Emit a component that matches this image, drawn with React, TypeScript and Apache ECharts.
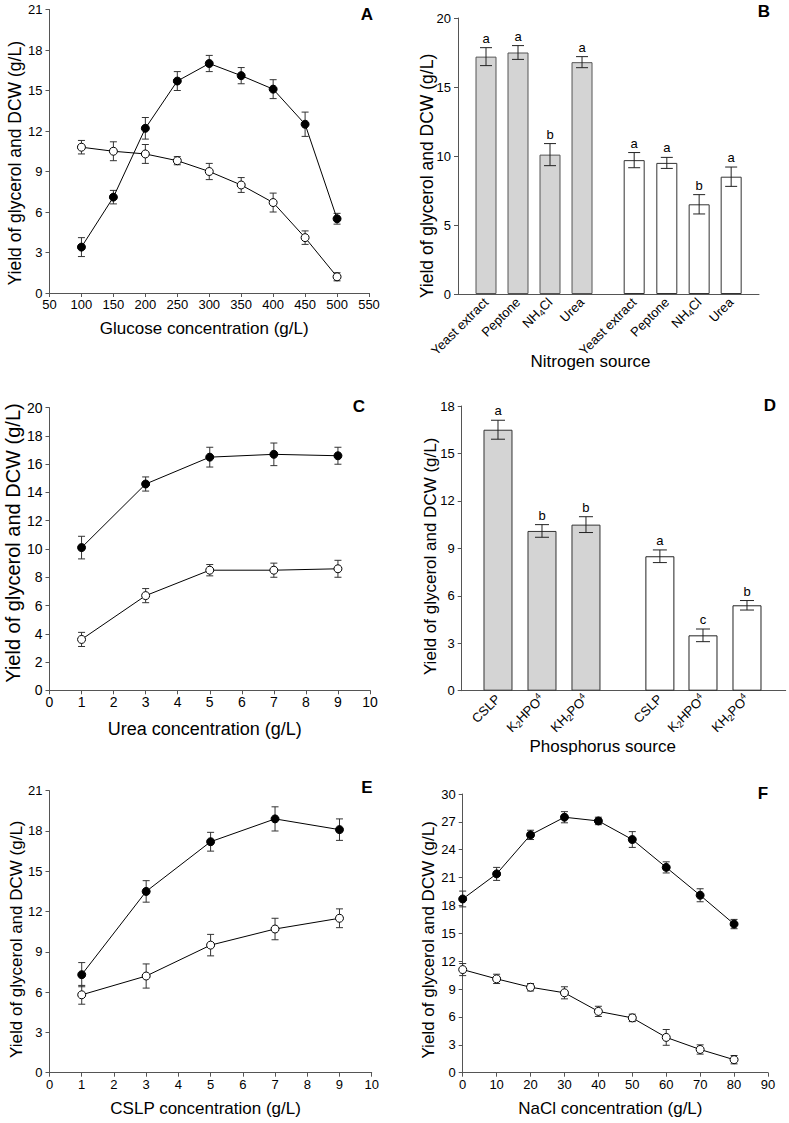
import React, { useEffect, useRef } from "react";
import * as echarts from "echarts";

const FONT = "'Liberation Sans', Arial, Helvetica, sans-serif";

// ---------- Panel A: glucose ----------
const glucoseX = [100, 150, 200, 250, 300, 350, 400, 450, 500];
const glycerolA = [3.4, 7.1, 12.2, 15.7, 17.0, 16.1, 15.1, 12.5, 5.5];
const glycerolAErr = [0.7, 0.5, 0.8, 0.7, 0.6, 0.6, 0.7, 0.9, 0.4];
const dcwA = [10.8, 10.5, 10.3, 9.8, 9.0, 8.0, 6.7, 4.1, 1.2];
const dcwAErr = [0.5, 0.7, 0.7, 0.3, 0.6, 0.55, 0.7, 0.5, 0.3];

// ---------- Panel B: nitrogen source ----------
const nitrogenLabels = ["Yeast extract", "Peptone", "NH{sub|4}Cl", "Urea"];
const nitrogenSlotsGlycerol = [1, 2, 3, 4];
const nitrogenSlotsDcw = [5.63, 6.65, 7.66, 8.66];
const glycerolB = [17.2, 17.5, 10.1, 16.8];
const glycerolBErr = [0.65, 0.5, 0.8, 0.4];
const glycerolBLetters = ["a", "a", "b", "a"];
const dcwB = [9.7, 9.5, 6.5, 8.5];
const dcwBErr = [0.55, 0.4, 0.7, 0.7];
const dcwBLetters = ["a", "a", "b", "a"];

// ---------- Panel C: urea ----------
const ureaX = [1, 3, 5, 7, 9];
const glycerolC = [10.1, 14.6, 16.5, 16.7, 16.6];
const glycerolCErr = [0.8, 0.5, 0.7, 0.8, 0.6];
const dcwC = [3.6, 6.7, 8.5, 8.5, 8.6];
const dcwCErr = [0.5, 0.5, 0.4, 0.5, 0.6];

// ---------- Panel D: phosphorus source ----------
const phosLabels = ["CSLP", "K{sub|2}HPO{sup|4}", "KH{sub|2}PO{sup|4}"];
const phosSlotsGlycerol = [1, 2, 3];
const phosSlotsDcw = [4.68, 5.66, 6.66];
const glycerolD = [16.5, 10.1, 10.5];
const glycerolDErr = [0.6, 0.4, 0.5];
const glycerolDLetters = ["a", "b", "b"];
const dcwD = [8.5, 3.5, 5.4];
const dcwDErr = [0.4, 0.4, 0.3];
const dcwDLetters = ["a", "c", "b"];

// ---------- Panel E: CSLP ----------
const cslpX = [1, 3, 5, 7, 9];
const glycerolE = [7.3, 13.5, 17.2, 18.9, 18.1];
const glycerolEErr = [0.9, 0.8, 0.7, 0.9, 0.8];
const dcwE = [5.8, 7.2, 9.5, 10.7, 11.5];
const dcwEErr = [0.7, 0.9, 0.8, 0.8, 0.7];

// ---------- Panel F: NaCl ----------
const naclX = [0, 10, 20, 30, 40, 50, 60, 70, 80];
const glycerolF = [18.7, 21.4, 25.6, 27.5, 27.1, 25.1, 22.1, 19.1, 16.0];
const glycerolFErr = [0.85, 0.7, 0.5, 0.6, 0.4, 0.85, 0.6, 0.7, 0.5];
const dcwF = [11.1, 10.1, 9.2, 8.6, 6.6, 5.9, 3.8, 2.5, 1.4];
const dcwFErr = [0.65, 0.5, 0.4, 0.65, 0.55, 0.4, 0.85, 0.5, 0.45];

const yTitle = "Yield of glycerol and DCW (g/L)";

const pts = (x: number[], y: number[]) => x.map((v, i) => [v, y[i]]);
const errPts = (x: number[], y: number[], e: number[]) =>
  x.map((v, i) => [v, y[i] - e[i], y[i] + e[i]]);

function errSeries(
  idx: number,
  data: number[][],
  capHalf: number,
  color: string,
  letters?: string[]
) {
  return {
    type: "custom",
    xAxisIndex: idx,
    yAxisIndex: idx,
    data,
    z: 5,
    silent: true,
    itemStyle: { color: "#000" },
    encode: { x: 0, y: [1, 2] },
    renderItem: (params: any, api: any) => {
      const x = api.value(0);
      const lo = api.value(1);
      const hi = api.value(2);
      const t = api.coord([x, hi]);
      const b = api.coord([x, lo]);
      const style = { stroke: color, lineWidth: 1 };
      const children: any[] = [
        { type: "line", shape: { x1: t[0], y1: t[1], x2: b[0], y2: b[1] }, style },
        { type: "line", shape: { x1: t[0] - capHalf, y1: t[1], x2: t[0] + capHalf, y2: t[1] }, style },
        { type: "line", shape: { x1: b[0] - capHalf, y1: b[1], x2: b[0] + capHalf, y2: b[1] }, style },
      ];
      if (letters) {
        children.push({
          type: "text",
          x: t[0],
          y: t[1] - 3,
          style: {
            text: letters[params.dataIndex],
            fontSize: 13,
            fontFamily: FONT,
            fill: "#000",
            align: "center",
            verticalAlign: "bottom",
          },
        });
      }
      return { type: "group", children };
    },
  };
}

function lineSeries(idx: number, x: number[], y: number[], filled: boolean) {
  return {
    type: "line",
    xAxisIndex: idx,
    yAxisIndex: idx,
    data: pts(x, y),
    symbol: "circle",
    symbolSize: 8,
    z: 10,
    lineStyle: { color: "#000", width: 1 },
    itemStyle: { color: filled ? "#000" : "#fff", borderColor: "#000", borderWidth: 1 },
  };
}

function barSeries(idx: number, x: number[], y: number[], width: number, color: string, border: string) {
  return {
    type: "bar",
    xAxisIndex: idx,
    yAxisIndex: idx,
    data: pts(x, y),
    barWidth: width,
    barGap: "-100%",
    z: 2,
    itemStyle: { color, borderColor: border, borderWidth: 1 },
  };
}

const AXIS_COLOR = "#555";

function valAxis(
  gridIndex: number,
  min: number,
  max: number,
  interval: number | undefined,
  fontSize: number,
  margin: number,
  extra: any = {}
) {
  return {
    type: "value",
    gridIndex,
    min,
    max,
    interval,
    axisLine: { show: true, onZero: false, lineStyle: { color: AXIS_COLOR, width: 1 } },
    axisTick: { show: true, length: 4, inside: false, lineStyle: { color: AXIS_COLOR, width: 1 } },
    axisLabel: { color: "#000", fontSize, fontFamily: FONT, margin },
    splitLine: { show: false },
    ...extra,
  };
}

function nameOpts(name: string, gap: number, fontSize: number, padding: number[]) {
  return {
    name,
    nameLocation: "middle",
    nameGap: gap,
    nameMoveOverlap: false,
    nameTextStyle: { color: "#000", fontSize, fontFamily: FONT, padding },
  };
}

function nearestLabel(slots: number[], labels: string[], v: number) {
  let best = 0;
  for (let i = 0; i < slots.length; i++) {
    if (Math.abs(slots[i] - v) < Math.abs(slots[best] - v)) best = i;
  }
  return labels[best];
}

function catLabelAxis(slots: number[], labels: string[]) {
  return {
    axisTick: { show: false },
    axisLabel: {
      color: "#000",
      fontSize: 13,
      fontFamily: FONT,
      margin: 6,
      rotate: 45,
      lineHeight: 16,
      customValues: slots,
      formatter: (v: number) => nearestLabel(slots, labels, v),
      rich: {
        sub: { fontSize: 9, lineHeight: 9, verticalAlign: "bottom", fontFamily: FONT, color: "#000" },
        sup: { fontSize: 9, lineHeight: 9, verticalAlign: "top", fontFamily: FONT, color: "#000" },
      },
    },
  };
}

function panelLetter(text: string, x: number, y: number) {
  return {
    type: "text",
    x,
    y,
    style: {
      text,
      fontSize: 17,
      fontWeight: "bold",
      fontFamily: FONT,
      fill: "#000",
      align: "center",
      verticalAlign: "middle",
    },
  };
}

export default function App() {
  const ref = useRef<HTMLDivElement>(null);

  useEffect(() => {
    if (!ref.current) return;
    const chart = echarts.init(ref.current, undefined, { renderer: "svg" });

    const bSlotsAll = [...nitrogenSlotsGlycerol, ...nitrogenSlotsDcw];
    const bLabelsAll = [...nitrogenLabels, ...nitrogenLabels];
    const dSlotsAll = [...phosSlotsGlycerol, ...phosSlotsDcw];
    const dLabelsAll = [...phosLabels, ...phosLabels];

    const option: any = {
      animation: false,
      backgroundColor: "#fff",
      grid: [
        { left: 49.5, top: 9.5, width: 319.5, height: 283.5 },
        { left: 458, top: 18, width: 301, height: 276 },
        { left: 49.5, top: 407.7, width: 320.5, height: 282.6 },
        { left: 461.7, top: 406, width: 324, height: 284.7 },
        { left: 49.5, top: 790.7, width: 322.2, height: 282 },
        { left: 462.7, top: 794, width: 305.3, height: 278.7 },
      ],
      xAxis: [
        valAxis(0, 50, 550, 50, 13, 5, nameOpts("Glucose concentration (g/L)", 27, 17, [0, 10, 0, 0])),
        valAxis(1, 0.125, 9.53, undefined, 13, 6, {
          ...nameOpts("Nitrogen source", 59, 17, [0, 36, 0, 0]),
          ...catLabelAxis(bSlotsAll, bLabelsAll),
        }),
        valAxis(2, 0, 10, 1, 14, 5, nameOpts("Urea concentration (g/L)", 30, 18, [0, 10, 0, 0])),
        valAxis(3, 0.175, 7.54, undefined, 13, 6, {
          ...nameOpts("Phosphorus source", 47, 17, [0, 42, 0, 0]),
          ...catLabelAxis(dSlotsAll, dLabelsAll),
        }),
        valAxis(4, 0, 10, 1, 13, 5, nameOpts("CSLP concentration (g/L)", 27, 17, [0, 10, 0, 0])),
        valAxis(5, 0, 90, 10, 13, 5, nameOpts("NaCl concentration (g/L)", 27, 17, [0, 10, 0, 0])),
      ],
      yAxis: [
        valAxis(0, 0, 21, 3, 13, 7, nameOpts(yTitle, 26, 17.5, [0, 24, 0, 0])),
        valAxis(1, 0, 20, 5, 13, 7, nameOpts(yTitle, 22, 17.5, [0, 40, 0, 0])),
        valAxis(2, 0, 20, 2, 14, 7, nameOpts(yTitle, 27, 20, [0, 0, 0, 12])),
        valAxis(3, 0, 18, 3, 13, 7, nameOpts(yTitle, 23, 17, [0, 16, 0, 0])),
        valAxis(4, 0, 21, 3, 13, 7, nameOpts(yTitle, 25, 17, [0, 15, 0, 0])),
        valAxis(5, 0, 30, 3, 13, 7, nameOpts(yTitle, 26, 17, [0, 13, 0, 0])),
      ],
      graphic: [
        panelLetter("A", 367, 14),
        panelLetter("B", 764, 11),
        panelLetter("C", 359, 406),
        panelLetter("D", 770, 405),
        panelLetter("E", 367, 787),
        panelLetter("F", 763, 793),
      ],
      series: [
        // A
        errSeries(0, errPts(glucoseX, glycerolA, glycerolAErr), 3.5, "#333"),
        errSeries(0, errPts(glucoseX, dcwA, dcwAErr), 3.5, "#333"),
        lineSeries(0, glucoseX, glycerolA, true),
        lineSeries(0, glucoseX, dcwA, false),
        // B
        barSeries(1, nitrogenSlotsGlycerol, glycerolB, 21, "#d4d4d4", "#555"),
        barSeries(1, nitrogenSlotsDcw, dcwB, 21, "#ffffff", "#333"),
        errSeries(1, errPts(nitrogenSlotsGlycerol, glycerolB, glycerolBErr), 6, "#222", glycerolBLetters),
        errSeries(1, errPts(nitrogenSlotsDcw, dcwB, dcwBErr), 6, "#222", dcwBLetters),
        // C
        errSeries(2, errPts(ureaX, glycerolC, glycerolCErr), 3.5, "#333"),
        errSeries(2, errPts(ureaX, dcwC, dcwCErr), 3.5, "#333"),
        lineSeries(2, ureaX, glycerolC, true),
        lineSeries(2, ureaX, dcwC, false),
        // D
        barSeries(3, phosSlotsGlycerol, glycerolD, 29, "#d4d4d4", "#333"),
        barSeries(3, phosSlotsDcw, dcwD, 29, "#ffffff", "#222"),
        errSeries(3, errPts(phosSlotsGlycerol, glycerolD, glycerolDErr), 7, "#222", glycerolDLetters),
        errSeries(3, errPts(phosSlotsDcw, dcwD, dcwDErr), 7, "#222", dcwDLetters),
        // E
        errSeries(4, errPts(cslpX, glycerolE, glycerolEErr), 3.5, "#333"),
        errSeries(4, errPts(cslpX, dcwE, dcwEErr), 3.5, "#333"),
        lineSeries(4, cslpX, glycerolE, true),
        lineSeries(4, cslpX, dcwE, false),
        // F
        errSeries(5, errPts(naclX, glycerolF, glycerolFErr), 3.5, "#333"),
        errSeries(5, errPts(naclX, dcwF, dcwFErr), 3.5, "#333"),
        lineSeries(5, naclX, glycerolF, true),
        lineSeries(5, naclX, dcwF, false),
      ],
    };

    chart.setOption(option);
    return () => {
      chart.dispose();
    };
  }, []);

  return (
    <div
      ref={ref}
      style={{ position: "absolute", left: 0, top: 0, width: 789, height: 1123, background: "#fff" }}
    />
  );
}
